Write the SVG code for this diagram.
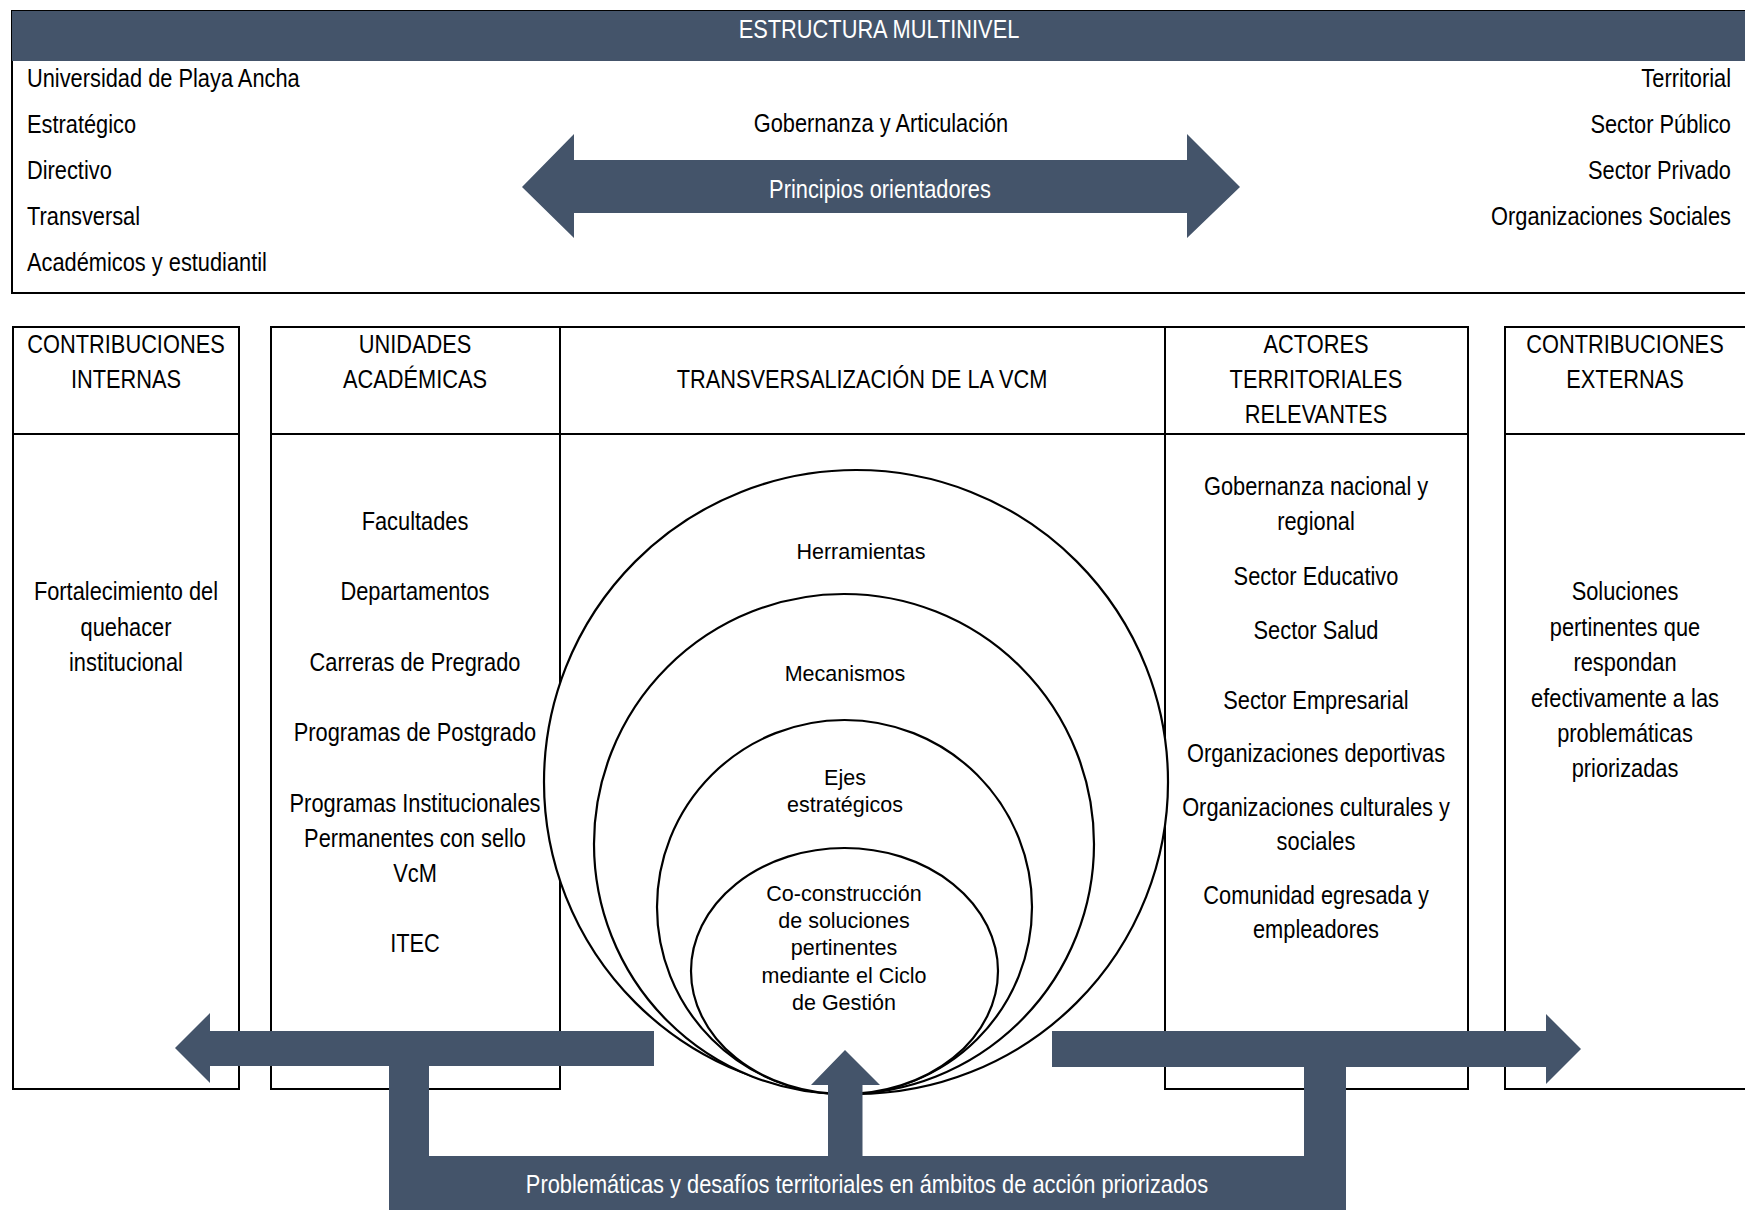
<svg xmlns="http://www.w3.org/2000/svg" width="1745" height="1210" viewBox="0 0 1745 1210">
<style>
.n{font-family:"Liberation Sans Narrow","Liberation Sans",Arial,sans-serif;font-size:26.6px;fill:#000;transform-box:fill-box;transform:scaleX(0.82);transform-origin:left center}
.w{fill:#fff}
.c{text-anchor:middle;transform-origin:center}
.r{text-anchor:end;transform-origin:right center}
.e{font-family:"Liberation Sans",Arial,sans-serif;font-size:21.5px;fill:#000;text-anchor:middle}
.box{fill:none;stroke:#000;stroke-width:2}
.ell{fill:#fff;stroke:#000;stroke-width:2.2}
.dk{fill:#44546A}
</style>
<rect x="0" y="0" width="1745" height="1210" fill="#fff"/>

<g id="estructura-multinivel">
<rect x="12" y="11" width="1740" height="282" class="box"/>
<rect x="12" y="11" width="1740" height="50" class="dk"/>
<text x="879" y="38" class="n w c">ESTRUCTURA MULTINIVEL</text>
<text x="27" y="87" class="n">Universidad de Playa Ancha</text>
<text x="27" y="133" class="n">Estratégico</text>
<text x="27" y="179" class="n">Directivo</text>
<text x="27" y="225" class="n">Transversal</text>
<text x="27" y="271" class="n">Académicos y estudiantil</text>
<text x="1731" y="87" class="n r">Territorial</text>
<text x="1731" y="133" class="n r">Sector Público</text>
<text x="1731" y="179" class="n r">Sector Privado</text>
<text x="1731" y="225" class="n r">Organizaciones Sociales</text>
<text x="881" y="132" class="n c">Gobernanza y Articulación</text>
</g>

<g id="principios-orientadores">
<polygon class="dk" points="522,187 574,134 574,160 1187,160 1187,134 1240,187 1187,238 1187,213 574,213 574,238"/>
<text x="880" y="198" class="n w c">Principios orientadores</text>
</g>

<g id="contribuciones-internas">
<rect x="13" y="327" width="226" height="762" class="box"/>
<line x1="13" y1="434" x2="239" y2="434" class="box"/>
<text x="126" y="353" class="n c">CONTRIBUCIONES</text>
<text x="126" y="388" class="n c">INTERNAS</text>
<text x="126" y="600" class="n c">Fortalecimiento del</text>
<text x="126" y="636" class="n c">quehacer</text>
<text x="126" y="671" class="n c">institucional</text>
</g>

<g id="unidades-academicas">
<rect x="271" y="327" width="289" height="762" class="box"/>
<line x1="271" y1="434" x2="560" y2="434" class="box"/>
<text x="415" y="353" class="n c">UNIDADES</text>
<text x="415" y="388" class="n c">ACADÉMICAS</text>
<text x="415" y="530" class="n c">Facultades</text>
<text x="415" y="600" class="n c">Departamentos</text>
<text x="415" y="671" class="n c">Carreras de Pregrado</text>
<text x="415" y="741" class="n c">Programas de Postgrado</text>
<text x="415" y="812" class="n c">Programas Institucionales</text>
<text x="415" y="847" class="n c">Permanentes con sello</text>
<text x="415" y="882" class="n c">VcM</text>
<text x="415" y="952" class="n c">ITEC</text>
</g>

<g id="actores-territoriales">
<rect x="1165" y="327" width="303" height="762" class="box"/>
<line x1="1165" y1="434" x2="1468" y2="434" class="box"/>
<text x="1316" y="353" class="n c">ACTORES</text>
<text x="1316" y="388" class="n c">TERRITORIALES</text>
<text x="1316" y="423" class="n c">RELEVANTES</text>
<text x="1316" y="495" class="n c">Gobernanza nacional y</text>
<text x="1316" y="530" class="n c">regional</text>
<text x="1316" y="585" class="n c">Sector Educativo</text>
<text x="1316" y="639" class="n c">Sector Salud</text>
<text x="1316" y="709" class="n c">Sector Empresarial</text>
<text x="1316" y="762" class="n c">Organizaciones deportivas</text>
<text x="1316" y="816" class="n c">Organizaciones culturales y</text>
<text x="1316" y="850" class="n c">sociales</text>
<text x="1316" y="904" class="n c">Comunidad egresada y</text>
<text x="1316" y="938" class="n c">empleadores</text>
</g>

<g id="transversalizacion">
<line x1="560" y1="327" x2="1165" y2="327" class="box"/>
<line x1="560" y1="434" x2="1165" y2="434" class="box"/>
<text x="862" y="388" class="n c">TRANSVERSALIZACIÓN DE LA VCM</text>
</g>

<g id="contribuciones-externas">
<rect x="1505" y="327" width="260" height="762" class="box"/>
<line x1="1505" y1="434" x2="1765" y2="434" class="box"/>
<text x="1625" y="353" class="n c">CONTRIBUCIONES</text>
<text x="1625" y="388" class="n c">EXTERNAS</text>
<text x="1625" y="600" class="n c">Soluciones</text>
<text x="1625" y="636" class="n c">pertinentes que</text>
<text x="1625" y="671" class="n c">respondan</text>
<text x="1625" y="707" class="n c">efectivamente a las</text>
<text x="1625" y="742" class="n c">problemáticas</text>
<text x="1625" y="777" class="n c">priorizadas</text>
</g>

<g id="herramientas">
<ellipse cx="856" cy="782" rx="312" ry="312" class="ell"/>
<text x="861" y="559" class="e">Herramientas</text>
</g>
<g id="mecanismos">
<ellipse cx="844" cy="844" rx="250" ry="250" class="ell"/>
<text x="845" y="681" class="e">Mecanismos</text>
</g>
<g id="ejes-estrategicos">
<ellipse cx="844.5" cy="907" rx="187.5" ry="187" class="ell"/>
<text x="845" y="785" class="e">Ejes</text>
<text x="845" y="812" class="e">estratégicos</text>
</g>
<g id="co-construccion">
<ellipse cx="844.5" cy="971" rx="153.5" ry="123" class="ell"/>
<text x="844" y="901" class="e">Co-construcción</text>
<text x="844" y="928" class="e">de soluciones</text>
<text x="844" y="955" class="e">pertinentes</text>
<text x="844" y="983" class="e">mediante el Ciclo</text>
<text x="844" y="1010" class="e">de Gestión</text>
</g>

<g id="connectors">
<polygon class="dk" points="175,1048 210,1013 210,1031 654,1031 654,1066 429,1066 429,1157 389,1157 389,1066 210,1066 210,1083"/>
<polygon class="dk" points="1581,1049 1546,1014 1546,1031 1052,1031 1052,1067 1304,1067 1304,1157 1346,1157 1346,1067 1546,1067 1546,1084"/>
<polygon class="dk" points="845,1050 880,1085 862.5,1085 862.5,1157 828,1157 828,1085 811,1085"/>
</g>

<g id="problematicas">
<rect x="389" y="1156" width="957" height="60" class="dk"/>
<text x="867" y="1193" class="n w c">Problemáticas y desafíos territoriales en ámbitos de acción priorizados</text>
</g>
</svg>
